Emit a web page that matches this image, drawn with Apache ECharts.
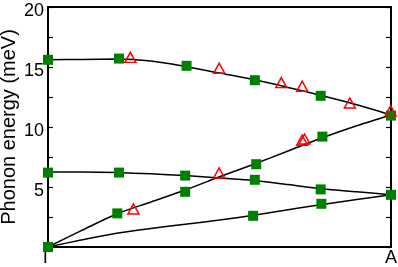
<!DOCTYPE html>
<html>
<head>
<meta charset="utf-8">
<script src="https://cdn.jsdelivr.net/npm/echarts@6/dist/echarts.min.js"></script>
<style>html,body{margin:0;padding:0;background:#fff}#c{width:398px;height:267px}</style>
</head>
<body>
<div id="c"></div>
<script>
// Calculated dispersion curves (q along Γ–A, fraction)
var qGrid = [0, 0.1, 0.2, 0.3, 0.4, 0.5, 0.6, 0.7, 0.8, 0.9, 1.0];
var branchTop = [15.6, 15.63, 15.66, 15.5, 15.05, 14.5, 13.95, 13.3, 12.6, 11.85, 11.0];
var branchMid = [6.25, 6.24, 6.2, 6.1, 5.95, 5.75, 5.55, 5.2, 4.85, 4.6, 4.35];
var branchLA = [0, 1.4, 2.75, 3.75, 4.75, 5.85, 6.9, 8.0, 9.1, 10.1, 11.0];
var branchTA = [0, 0.6, 1.15, 1.55, 1.9, 2.25, 2.65, 3.1, 3.55, 3.95, 4.35];

// Green squares
var squareQ = [0, 0.207, 0.404, 0.603, 0.795, 1.0,
               0, 0.207, 0.40, 0.603, 0.795, 1.0,
               0.40, 0.607, 0.80,
               0.202, 0.598, 0.797,
               0];
var squareE = [15.6, 15.7, 15.1, 13.9, 12.6, 10.95,
               6.2, 6.2, 5.95, 5.6, 4.8, 4.35,
               4.6, 6.9, 9.2,
               2.8, 2.6, 3.6,
               0];

// Red open triangles
var triQ = [0.240, 0.499, 0.680, 0.741, 0.880, 0.999, 0.249, 0.499, 0.741, 0.748];
var triE = [15.8, 14.9, 13.7, 13.4, 12.0, 11.36, 3.17, 6.17, 8.9, 9.0];

var xTickLabels = {0: 'Γ', 1: 'A'};
var yTicks = [0, 2.5, 5, 7.5, 10, 12.5, 15, 17.5, 20];
var yLabelValues = [5, 10, 15, 20];

function pairs(xs, ys) { return xs.map(function (x, i) { return [x, ys[i]]; }); }

var font = "'Liberation Sans', Arial, Helvetica, sans-serif";
var chart = echarts.init(document.getElementById('c'), null, {renderer: 'canvas'});

function lineSeries(data) {
  return {
    type: 'line', data: pairs(qGrid, data), smooth: 0.3, symbol: 'none',
    lineStyle: {color: '#000', width: 1.5}, z: 2, silent: true
  };
}

chart.setOption({
  animation: false,
  backgroundColor: '#fff',
  grid: {left: 48, right: 7, top: 7, bottom: 20, show: true, borderColor: '#000', borderWidth: 2,
         containLabel: false, outerBoundsMode: 'none'},
  xAxis: {
    type: 'value', min: 0, max: 1, interval: 1,
    axisLine: {show: true, lineStyle: {color: '#000', width: 2}},
    axisTick: {show: false},
    splitLine: {show: false},
    axisLabel: {
      color: '#000', fontSize: 18, fontFamily: font, margin: 2,
      showMinLabel: true, showMaxLabel: true,
      formatter: function (v) { return xTickLabels[v] || ''; }
    }
  },
  yAxis: [{
    type: 'value', min: 0, max: 20, interval: 2.5, position: 'left',
    name: 'Phonon energy (meV)', nameLocation: 'middle', nameGap: 29, nameMoveOverlap: false,
    nameTextStyle: {color: '#000', fontSize: 20, fontFamily: font},
    axisLine: {show: true, lineStyle: {color: '#000', width: 2}},
    axisTick: {show: true, inside: true, length: 5, lineStyle: {color: '#000', width: 1.2}},
    splitLine: {show: false},
    axisLabel: {
      color: '#000', fontSize: 18, fontFamily: font, margin: 4,
      verticalAlign: 'top', lineHeight: 9,
      formatter: function (v) { return yLabelValues.indexOf(v) >= 0 ? String(v) : ''; }
    }
  }, {
    type: 'value', min: 0, max: 20, interval: 2.5, position: 'right',
    axisLine: {show: true, lineStyle: {color: '#000', width: 2}},
    axisTick: {show: true, inside: true, length: 5, lineStyle: {color: '#000', width: 1.2}},
    axisLabel: {show: false},
    splitLine: {show: false}
  }],
  series: [
    lineSeries(branchTop),
    lineSeries(branchMid),
    lineSeries(branchLA),
    lineSeries(branchTA),
    {
      type: 'scatter', data: pairs(squareQ, squareE), symbol: 'rect', symbolSize: 10,
      itemStyle: {color: '#008000', opacity: 1}, z: 3
    },
    {
      type: 'scatter', data: pairs(triQ, triE), symbol: 'triangle', symbolSize: [11, 10],
      itemStyle: {color: 'rgba(0,0,0,0)', borderColor: '#ff0000', borderWidth: 1.5, opacity: 1}, z: 4
    }
  ]
});
</script>
</body>
</html>
